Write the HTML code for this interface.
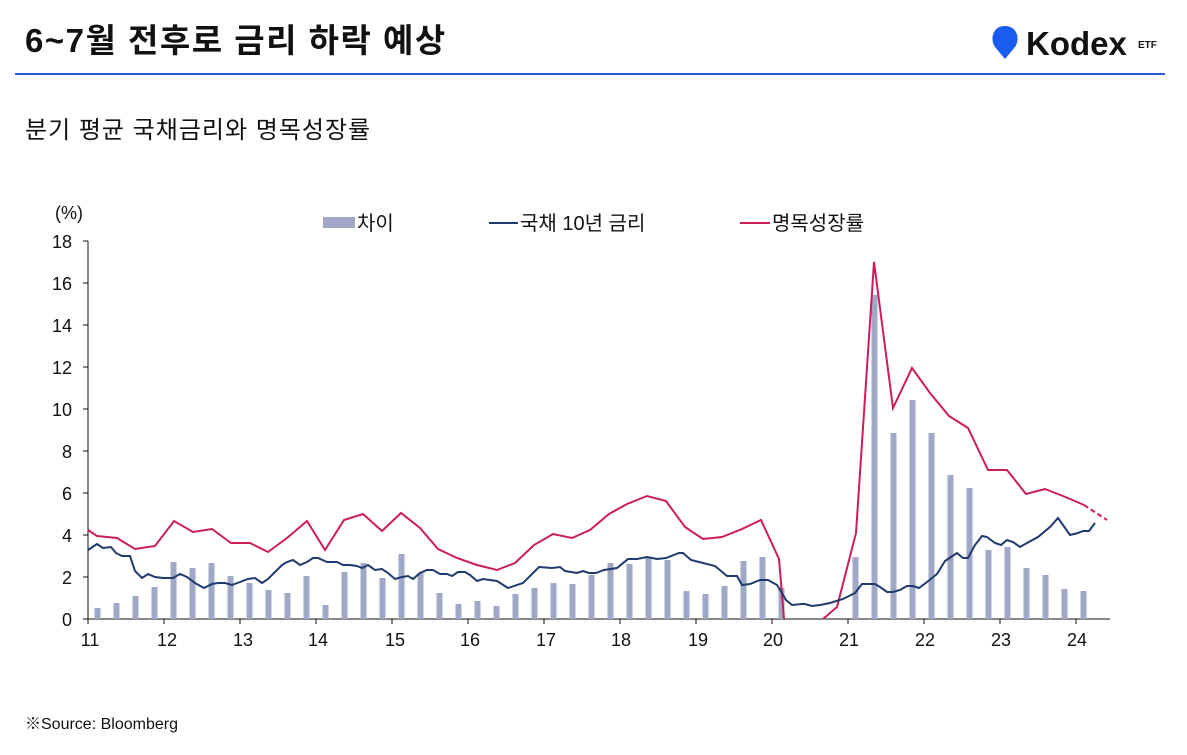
<!DOCTYPE html>
<html><head><meta charset="utf-8"><style>
body{margin:0;background:#fff;width:1187px;height:750px;overflow:hidden;font-family:"Liberation Sans","Noto Sans CJK KR",sans-serif;}
</style></head><body>
<svg width="1187" height="750" xmlns="http://www.w3.org/2000/svg" font-family="Liberation Sans, Noto Sans CJK KR, sans-serif">
<text x="25" y="52" font-size="33" font-weight="bold" fill="#111" letter-spacing="1.5">6~7월 전후로 금리 하락 예상</text>
<path d="M1005,26 c-13,0 -15,14 -10,21 l10,12 l10,-12 c5,-7 3,-21 -10,-21z" fill="#1a5cf0"/>
<text x="1026" y="55" font-size="33" font-weight="bold" fill="#111">Kodex</text>
<text x="1138" y="48" font-size="10" font-weight="bold" fill="#111">ETF</text>
<rect x="15" y="73" width="1150" height="2" fill="#2a5bd7"/>
<text x="25" y="138" font-size="24" fill="#111" letter-spacing="1">분기 평균 국채금리와 명목성장률</text>
<text x="55" y="219" font-size="18" fill="#111">(%)</text>
<g font-size="18" fill="#111" text-anchor="end">
<text x="72" y="248">18</text><text x="72" y="290">16</text><text x="72" y="332">14</text><text x="72" y="374">12</text><text x="72" y="416">10</text><text x="72" y="458">8</text><text x="72" y="500">6</text><text x="72" y="542">4</text><text x="72" y="584">2</text><text x="72" y="626">0</text>
</g>
<g stroke="#111" stroke-width="1">
<line x1="88" y1="241" x2="88" y2="619"/>
<line x1="88" y1="619" x2="1110" y2="619"/>
<line x1="83" y1="241" x2="88" y2="241"/><line x1="83" y1="283" x2="88" y2="283"/><line x1="83" y1="325" x2="88" y2="325"/><line x1="83" y1="367" x2="88" y2="367"/><line x1="83" y1="409" x2="88" y2="409"/><line x1="83" y1="451" x2="88" y2="451"/><line x1="83" y1="493" x2="88" y2="493"/><line x1="83" y1="535" x2="88" y2="535"/><line x1="83" y1="577" x2="88" y2="577"/><line x1="83" y1="619" x2="88" y2="619"/>
<line x1="88" y1="619" x2="88" y2="624"/><line x1="164" y1="619" x2="164" y2="624"/><line x1="240" y1="619" x2="240" y2="624"/><line x1="316" y1="619" x2="316" y2="624"/><line x1="392" y1="619" x2="392" y2="624"/><line x1="468" y1="619" x2="468" y2="624"/><line x1="544" y1="619" x2="544" y2="624"/><line x1="620" y1="619" x2="620" y2="624"/><line x1="696" y1="619" x2="696" y2="624"/><line x1="772" y1="619" x2="772" y2="624"/><line x1="848" y1="619" x2="848" y2="624"/><line x1="924" y1="619" x2="924" y2="624"/><line x1="1000" y1="619" x2="1000" y2="624"/><line x1="1076" y1="619" x2="1076" y2="624"/>
</g>
<g font-size="18" fill="#111" text-anchor="middle">
<text x="90" y="646">11</text><text x="167" y="646">12</text><text x="243" y="646">13</text><text x="318" y="646">14</text><text x="395" y="646">15</text><text x="470" y="646">16</text><text x="546" y="646">17</text><text x="621" y="646">18</text><text x="698" y="646">19</text><text x="773" y="646">20</text><text x="849" y="646">21</text><text x="925" y="646">22</text><text x="1001" y="646">23</text><text x="1077" y="646">24</text>
</g>
<g fill="#9fa8c6">
<rect x="94.5" y="608" width="6" height="11"/><rect x="113.5" y="603" width="6" height="16"/><rect x="132.5" y="596" width="6" height="23"/><rect x="151.5" y="587" width="6" height="32"/><rect x="170.5" y="562" width="6" height="57"/><rect x="189.5" y="568" width="6" height="51"/><rect x="208.5" y="563" width="6" height="56"/><rect x="227.5" y="576" width="6" height="43"/><rect x="246.5" y="583" width="6" height="36"/><rect x="265.5" y="590" width="6" height="29"/><rect x="284.5" y="593" width="6" height="26"/><rect x="303.5" y="576" width="6" height="43"/><rect x="322.5" y="605" width="6" height="14"/><rect x="341.5" y="572" width="6" height="47"/><rect x="360.5" y="563" width="6" height="56"/><rect x="379.5" y="578" width="6" height="41"/><rect x="398.5" y="554" width="6" height="65"/><rect x="417.5" y="573" width="6" height="46"/><rect x="436.5" y="593" width="6" height="26"/><rect x="455.5" y="604" width="6" height="15"/><rect x="474.5" y="601" width="6" height="18"/><rect x="493.5" y="606" width="6" height="13"/><rect x="512.5" y="594" width="6" height="25"/><rect x="531.5" y="588" width="6" height="31"/><rect x="550.5" y="583" width="6" height="36"/><rect x="569.5" y="584" width="6" height="35"/><rect x="588.5" y="575" width="6" height="44"/><rect x="607.5" y="563" width="6" height="56"/><rect x="626.5" y="564" width="6" height="55"/><rect x="645.5" y="558" width="6" height="61"/><rect x="664.5" y="560" width="6" height="59"/><rect x="683.5" y="591" width="6" height="28"/><rect x="702.5" y="594" width="6" height="25"/><rect x="721.5" y="586" width="6" height="33"/><rect x="740.5" y="561" width="6" height="58"/><rect x="759.5" y="557" width="6" height="62"/><rect x="778.5" y="588" width="6" height="31"/><rect x="852.5" y="557" width="6" height="62"/><rect x="871.5" y="295" width="6" height="324"/><rect x="890.5" y="433" width="6" height="186"/><rect x="909.5" y="400" width="6" height="219"/><rect x="928.5" y="433" width="6" height="186"/><rect x="947.5" y="475" width="6" height="144"/><rect x="966.5" y="488" width="6" height="131"/><rect x="985.5" y="550" width="6" height="69"/><rect x="1004.5" y="547" width="6" height="72"/><rect x="1023.5" y="568" width="6" height="51"/><rect x="1042.5" y="575" width="6" height="44"/><rect x="1061.5" y="589" width="6" height="30"/><rect x="1080.5" y="591" width="6" height="28"/>
</g>
<polyline fill="none" stroke="#cc1c5c" stroke-width="2" points="88,530 97,536 117,538 135,549 155,546 174,521 193,532 212,529 231,543 250,543 268,552 287,538 307,521 325,550 344,520 363,514 382,531 401,513 420,528 438,549 457,558 477,565 497,570 515,563 534,545 553,534 572,538 590,530 609,514 627,504 647,496 666,501 685,527 703,539 722,537 742,529 761,520 779,559 784,619"/>
<polyline fill="none" stroke="#cc1c5c" stroke-width="2" points="823,619 837,607 856,533 874,262 893,408 912,368 930,393 949,416 968,428 988,470 1007,470 1026,494 1045,489 1063,496 1084,505"/>
<line x1="1084" y1="505" x2="1107" y2="520" stroke="#cc1c5c" stroke-width="2" stroke-dasharray="5,3"/>
<polyline fill="none" stroke="#1f3a6e" stroke-width="2" points="88,550 97,544 103,548 111,547 116,553 122,556 130,556 135,571 142,578 148,574 155,577 163,578 173,578 180,574 187,577 195,583 204,588 212,584 218,583 225,583 232,585 240,582 248,579 255,578 262,583 268,579 275,572 282,565 287,562 293,560 300,565 307,562 313,558 318,558 327,562 337,562 343,565 350,565 357,566 362,568 368,565 375,570 382,569 388,573 395,579 402,577 408,576 413,579 420,573 427,570 433,570 440,574 447,574 452,576 458,572 465,572 470,575 477,581 483,579 497,581 508,588 523,583 539,567 552,568 560,567 565,571 577,573 583,571 589,573 596,573 604,570 617,568 628,559 637,559 647,557 657,559 666,558 679,553 683,553 691,560 703,563 715,566 727,576 737,576 742,585 750,584 760,580 768,580 777,585 782,593 786,600 792,605 802,604 805,604 812,606 820,605 830,603 843,599 855,593 862,584 875,584 880,587 887,592 893,592 900,590 907,586 913,586 919,588 927,582 937,574 945,561 957,553 963,558 968,558 975,545 982,536 987,537 995,543 1001,545 1007,540 1013,542 1020,547 1027,543 1038,537 1050,527 1058,518 1063,525 1070,535 1078,533 1083,531 1089,531 1095,523"/>
<rect x="323" y="217" width="32" height="11" fill="#9fa8c6"/>
<text x="357" y="230" font-size="20" fill="#111">차이</text>
<line x1="489" y1="223" x2="518" y2="223" stroke="#1f3a6e" stroke-width="2"/>
<text x="520" y="230" font-size="20" fill="#111">국채 10년 금리</text>
<line x1="740" y1="223" x2="770" y2="223" stroke="#cc1c5c" stroke-width="2"/>
<text x="772" y="230" font-size="20" fill="#111">명목성장률</text>
<text x="25" y="729" font-size="16" fill="#111">※Source: Bloomberg</text>
</svg>
</body></html>
